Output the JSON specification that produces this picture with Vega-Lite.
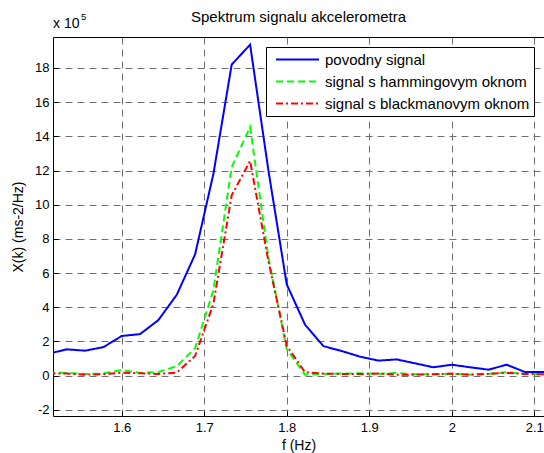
{
  "$schema": "https://vega.github.io/schema/vega-lite/v6.json",
  "width": 491,
  "height": 379,
  "autosize": {"type": "none"},
  "padding": {"left": 53, "top": 37, "right": 0, "bottom": 37},
  "background": "white",
  "config": {
    "font": "Liberation Sans",
    "view": {"stroke": "black", "strokeWidth": 1},
    "axis": {
      "domain": false,
      "grid": true,
      "gridColor": "#707070",
      "gridDash": [7, 5],
      "gridWidth": 1,
      "ticks": true,
      "tickColor": "black",
      "tickSize": -5,
      "labelFontSize": 13,
      "labelColor": "black",
      "labelOverlap": false,
      "labelBound": false,
      "titleFontSize": 14,
      "titleFontWeight": "normal",
      "titleColor": "black"
    },
    "legend": {
      "orient": "top-right",
      "offset": 10,
      "strokeColor": "black",
      "fillColor": "white",
      "padding": 4,
      "cornerRadius": 0,
      "labelFontSize": 15,
      "labelColor": "black",
      "labelLimit": 400,
      "symbolType": "M-3,0H3",
      "symbolSize": 205,
      "symbolStrokeWidth": 2,
      "symbolOffset": 19,
      "labelOffset": 19,
      "rowPadding": 5
    }
  },
  "title": {
    "text": "Spektrum signalu akcelerometra",
    "fontSize": 15,
    "fontWeight": "normal",
    "color": "black",
    "anchor": "middle",
    "frame": "group",
    "baseline": "alphabetic",
    "offset": -25
  },
  "layer": [
    {
      "data": {
        "values": [
          {"f": 1.5111, "series": "povodny signal", "X": 128000},
          {"f": 1.5333, "series": "povodny signal", "X": 154000},
          {"f": 1.5556, "series": "povodny signal", "X": 146000},
          {"f": 1.5778, "series": "povodny signal", "X": 167000},
          {"f": 1.6, "series": "povodny signal", "X": 232000},
          {"f": 1.6222, "series": "povodny signal", "X": 243000},
          {"f": 1.6444, "series": "povodny signal", "X": 325000},
          {"f": 1.6667, "series": "povodny signal", "X": 473000},
          {"f": 1.6889, "series": "povodny signal", "X": 709000},
          {"f": 1.7111, "series": "povodny signal", "X": 1180000},
          {"f": 1.7333, "series": "povodny signal", "X": 1820000},
          {"f": 1.7556, "series": "povodny signal", "X": 1936000},
          {"f": 1.7778, "series": "povodny signal", "X": 1200000},
          {"f": 1.8, "series": "povodny signal", "X": 534000},
          {"f": 1.8222, "series": "povodny signal", "X": 298000},
          {"f": 1.8444, "series": "povodny signal", "X": 173000},
          {"f": 1.8667, "series": "povodny signal", "X": 144000},
          {"f": 1.8889, "series": "povodny signal", "X": 111000},
          {"f": 1.9111, "series": "povodny signal", "X": 88000},
          {"f": 1.9333, "series": "povodny signal", "X": 95000},
          {"f": 1.9556, "series": "povodny signal", "X": 72000},
          {"f": 1.9778, "series": "povodny signal", "X": 49000},
          {"f": 2.0, "series": "povodny signal", "X": 64000},
          {"f": 2.0222, "series": "povodny signal", "X": 49000},
          {"f": 2.0444, "series": "povodny signal", "X": 35000},
          {"f": 2.0667, "series": "povodny signal", "X": 64000},
          {"f": 2.0889, "series": "povodny signal", "X": 21000},
          {"f": 2.1111, "series": "povodny signal", "X": 21000},
          {"f": 2.1333, "series": "povodny signal", "X": 21000},
          {"f": 1.5111, "series": "signal s hammingovym oknom", "X": 18000},
          {"f": 1.5333, "series": "signal s hammingovym oknom", "X": 16000},
          {"f": 1.5556, "series": "signal s hammingovym oknom", "X": 10000},
          {"f": 1.5778, "series": "signal s hammingovym oknom", "X": 12000},
          {"f": 1.6, "series": "signal s hammingovym oknom", "X": 33000},
          {"f": 1.6222, "series": "signal s hammingovym oknom", "X": 16000},
          {"f": 1.6444, "series": "signal s hammingovym oknom", "X": 21000},
          {"f": 1.6667, "series": "signal s hammingovym oknom", "X": 56000},
          {"f": 1.6889, "series": "signal s hammingovym oknom", "X": 160000},
          {"f": 1.7111, "series": "signal s hammingovym oknom", "X": 500000},
          {"f": 1.7333, "series": "signal s hammingovym oknom", "X": 1220000},
          {"f": 1.7556, "series": "signal s hammingovym oknom", "X": 1455000},
          {"f": 1.7778, "series": "signal s hammingovym oknom", "X": 690000},
          {"f": 1.8, "series": "signal s hammingovym oknom", "X": 155000},
          {"f": 1.8222, "series": "signal s hammingovym oknom", "X": 6000},
          {"f": 1.8444, "series": "signal s hammingovym oknom", "X": 10000},
          {"f": 1.8667, "series": "signal s hammingovym oknom", "X": 12000},
          {"f": 1.8889, "series": "signal s hammingovym oknom", "X": 14000},
          {"f": 1.9111, "series": "signal s hammingovym oknom", "X": 10000},
          {"f": 1.9333, "series": "signal s hammingovym oknom", "X": 16000},
          {"f": 1.9556, "series": "signal s hammingovym oknom", "X": 8000},
          {"f": 1.9778, "series": "signal s hammingovym oknom", "X": 8000},
          {"f": 2.0, "series": "signal s hammingovym oknom", "X": 10000},
          {"f": 2.0222, "series": "signal s hammingovym oknom", "X": 6000},
          {"f": 2.0444, "series": "signal s hammingovym oknom", "X": 10000},
          {"f": 2.0667, "series": "signal s hammingovym oknom", "X": 20000},
          {"f": 2.0889, "series": "signal s hammingovym oknom", "X": 10000},
          {"f": 2.1111, "series": "signal s hammingovym oknom", "X": 8000},
          {"f": 2.1333, "series": "signal s hammingovym oknom", "X": 8000},
          {"f": 1.5111, "series": "signal s blackmanovym oknom", "X": 12000},
          {"f": 1.5333, "series": "signal s blackmanovym oknom", "X": 12000},
          {"f": 1.5556, "series": "signal s blackmanovym oknom", "X": 6000},
          {"f": 1.5778, "series": "signal s blackmanovym oknom", "X": 8000},
          {"f": 1.6, "series": "signal s blackmanovym oknom", "X": 18000},
          {"f": 1.6222, "series": "signal s blackmanovym oknom", "X": 14000},
          {"f": 1.6444, "series": "signal s blackmanovym oknom", "X": 10000},
          {"f": 1.6667, "series": "signal s blackmanovym oknom", "X": 18000},
          {"f": 1.6889, "series": "signal s blackmanovym oknom", "X": 115000},
          {"f": 1.7111, "series": "signal s blackmanovym oknom", "X": 420000},
          {"f": 1.7333, "series": "signal s blackmanovym oknom", "X": 1055000},
          {"f": 1.7556, "series": "signal s blackmanovym oknom", "X": 1256000},
          {"f": 1.7778, "series": "signal s blackmanovym oknom", "X": 670000},
          {"f": 1.8, "series": "signal s blackmanovym oknom", "X": 175000},
          {"f": 1.8222, "series": "signal s blackmanovym oknom", "X": 20000},
          {"f": 1.8444, "series": "signal s blackmanovym oknom", "X": 12000},
          {"f": 1.8667, "series": "signal s blackmanovym oknom", "X": 10000},
          {"f": 1.8889, "series": "signal s blackmanovym oknom", "X": 10000},
          {"f": 1.9111, "series": "signal s blackmanovym oknom", "X": 12000},
          {"f": 1.9333, "series": "signal s blackmanovym oknom", "X": 6000},
          {"f": 1.9556, "series": "signal s blackmanovym oknom", "X": 6000},
          {"f": 1.9778, "series": "signal s blackmanovym oknom", "X": 8000},
          {"f": 2.0, "series": "signal s blackmanovym oknom", "X": 12000},
          {"f": 2.0222, "series": "signal s blackmanovym oknom", "X": 6000},
          {"f": 2.0444, "series": "signal s blackmanovym oknom", "X": 10000},
          {"f": 2.0667, "series": "signal s blackmanovym oknom", "X": 16000},
          {"f": 2.0889, "series": "signal s blackmanovym oknom", "X": 10000},
          {"f": 2.1111, "series": "signal s blackmanovym oknom", "X": 8000},
          {"f": 2.1333, "series": "signal s blackmanovym oknom", "X": 8000}
        ]
      },
      "mark": {"type": "line", "clip": true, "strokeWidth": 2},
      "encoding": {
        "x": {
          "field": "f",
          "type": "quantitative",
          "scale": {"domain": [1.5167, 2.1118], "nice": false, "zero": false},
          "axis": {
            "title": "f (Hz)",
            "values": [1.6, 1.7, 1.8, 1.9, 2, 2.1],
            "tickCount": 20,
            "labelExpr": "'' + datum.value",
            "labelPadding": 10,
            "titlePadding": 4
          }
        },
        "y": {
          "field": "X",
          "type": "quantitative",
          "scale": {"domain": [-236000, 1981000], "nice": false, "zero": false},
          "axis": {
            "title": "X(k) (ms-2/Hz)",
            "values": [-200000, 0, 200000, 400000, 600000, 800000, 1000000, 1200000, 1400000, 1600000, 1800000],
            "tickCount": 20,
            "labelExpr": "'' + (datum.value / 100000)",
            "labelPadding": 9,
            "titlePadding": 9
          }
        },
        "color": {
          "field": "series",
          "type": "nominal",
          "scale": {
            "domain": ["povodny signal", "signal s hammingovym oknom", "signal s blackmanovym oknom"],
            "range": ["#0000ff", "#00ff00", "#ff0000"]
          },
          "legend": {"title": null}
        },
        "strokeDash": {
          "field": "series",
          "type": "nominal",
          "scale": {
            "domain": ["povodny signal", "signal s hammingovym oknom", "signal s blackmanovym oknom"],
            "range": [[1, 0], [7, 4], [7, 3, 2, 3]]
          },
          "legend": {"title": null}
        }
      }
    },
    {
      "data": {"values": [{"t": "x 10"}]},
      "mark": {"type": "text", "align": "left", "baseline": "alphabetic", "fontSize": 14, "color": "black"},
      "encoding": {
        "x": {"datum": 1.5167},
        "y": {"datum": 2033000},
        "text": {"field": "t"}
      }
    },
    {
      "data": {"values": [{"t": "5"}]},
      "mark": {"type": "text", "align": "left", "baseline": "alphabetic", "fontSize": 9.5, "color": "black"},
      "encoding": {
        "x": {"datum": 1.5506},
        "y": {"datum": 2082000},
        "text": {"field": "t"}
      }
    }
  ]
}
